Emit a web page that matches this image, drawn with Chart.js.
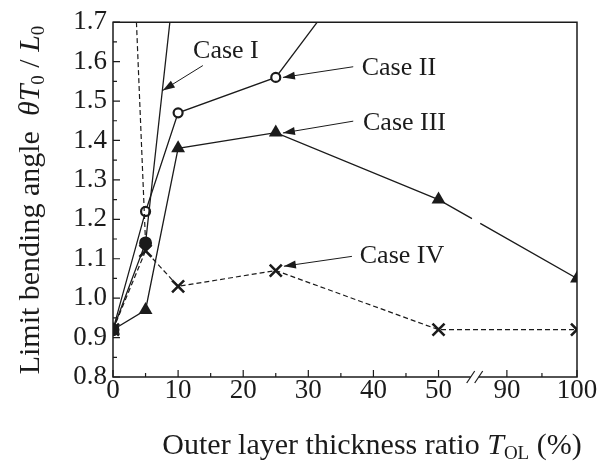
<!DOCTYPE html>
<html>
<head>
<meta charset="utf-8">
<script src="https://cdn.jsdelivr.net/npm/chart.js@4.4.0/dist/chart.umd.min.js"></script>
<style>
  html, body { margin: 0; padding: 0; background: #fff; }
  #wrap { width: 605px; height: 463px; }
</style>
</head>
<body>
<div id="wrap"><canvas id="bendChart" width="605" height="463"></canvas></div>
<script>
// outer layer thickness ratio T_OL (%) of the computed cases
var ratios = [0, 5, 10, 25, 50, 100];

// limit bending angle theta*T0/L0 for each case
var caseI = [0.92, 1.14, 1.89];
var caseII = [0.92, 1.22, 1.47, 1.56, 2.11];
var caseIII = [0.92, 0.97, 1.38, 1.42, 1.25, 1.05];
var caseIV = [0.92, 1.12, 1.03, 1.07, 0.92, 0.92];

// dashed upper branch of case I
var caseIBranchX = [5, 3];
var caseIBranch = [1.14, 1.94];

var xTickValues = [0, 10, 20, 30, 40, 50, 90, 100];
var xTickLabels = ['0', '10', '20', '30', '40', '50', '90', '100'];
var xMinorValues = [5, 15, 25, 35, 45, 95];
var yTickValues = [0.8, 0.9, 1.0, 1.1, 1.2, 1.3, 1.4, 1.5, 1.6, 1.7];

// the x axis skips 50..90
var BREAK_LO = 50, BREAK_HI = 90, BREAK_GAP = 10.5, RIGHT_STRETCH = 70 / 65;
function axisX(v) {
    return v <= BREAK_LO ? v : BREAK_LO + BREAK_GAP + (v - BREAK_HI) * RIGHT_STRETCH;
}
function pts(xs, ys) {
    return ys.map(function(y, i) { return { x: axisX(xs[i]), y: y }; });
}

var ink = '#1b1b1b';
var serif = "'Liberation Serif', 'Times New Roman', serif";

// callouts, positioned in axis units
var notes = [
    { text: 'Case I',   at: [12.3, 1.610], from: [13.8, 1.590], to: [7.64, 1.527] },
    { text: 'Case II',  at: [38.2, 1.565], from: [36.9, 1.587], to: [26.1, 1.560] },
    { text: 'Case III', at: [38.4, 1.427], from: [36.9, 1.449], to: [26.1, 1.419] },
    { text: 'Case IV',  at: [37.9, 1.088], from: [36.7, 1.106], to: [26.25, 1.081] }
];

function drawRuns(c, runs, cx, cy) {
    var total = 0;
    runs.forEach(function(r) { c.font = r.font; r.w = c.measureText(r.t).width; total += r.w; });
    var x = cx - total / 2;
    runs.forEach(function(r) { c.font = r.font; c.fillText(r.t, x, cy + (r.dy || 0)); x += r.w; });
}

var decor = {
    id: 'decor',
    afterDraw: function(chart) {
        var c = chart.ctx, a = chart.chartArea, xs = chart.scales.x, ys = chart.scales.y;
        c.save();
        c.strokeStyle = ink;
        c.fillStyle = ink;

        // frame, bottom edge interrupted at the break
        var bx = xs.getPixelForValue(BREAK_LO + BREAK_GAP / 2) + 2;
        c.lineWidth = 1.5;
        c.beginPath();
        c.moveTo(bx - 4, a.bottom);
        c.lineTo(a.left, a.bottom);
        c.lineTo(a.left, a.top);
        c.lineTo(a.right, a.top);
        c.lineTo(a.right, a.bottom);
        c.lineTo(bx + 4, a.bottom);
        c.stroke();

        c.lineWidth = 1.2;
        [-4, 4].forEach(function(d) {
            c.beginPath();
            c.moveTo(bx + d - 4, a.bottom + 6);
            c.lineTo(bx + d + 4, a.bottom - 6);
            c.stroke();
        });

        // inward tick marks
        c.lineWidth = 1.2;
        c.beginPath();
        xTickValues.forEach(function(v) {
            var px = xs.getPixelForValue(axisX(v));
            c.moveTo(px, a.bottom); c.lineTo(px, a.bottom - 7);
        });
        xMinorValues.forEach(function(v) {
            var px = xs.getPixelForValue(axisX(v));
            c.moveTo(px, a.bottom); c.lineTo(px, a.bottom - 4);
        });
        yTickValues.forEach(function(v, i) {
            var py = ys.getPixelForValue(v);
            c.moveTo(a.left, py); c.lineTo(a.left + 7, py);
            if (i > 0) {
                var pm = ys.getPixelForValue((v + yTickValues[i - 1]) / 2);
                c.moveTo(a.left, pm); c.lineTo(a.left + 4, pm);
            }
        });
        c.stroke();

        // callouts with arrows
        c.font = '26px ' + serif;
        c.textAlign = 'left';
        c.textBaseline = 'alphabetic';
        c.lineWidth = 1;
        notes.forEach(function(n) {
            c.fillText(n.text, xs.getPixelForValue(n.at[0]), ys.getPixelForValue(n.at[1]));
            var x0 = xs.getPixelForValue(n.from[0]), y0 = ys.getPixelForValue(n.from[1]);
            var x1 = xs.getPixelForValue(n.to[0]), y1 = ys.getPixelForValue(n.to[1]);
            var ang = Math.atan2(y1 - y0, x1 - x0);
            c.beginPath(); c.moveTo(x0, y0); c.lineTo(x1, y1); c.stroke();
            c.beginPath();
            c.moveTo(x1, y1);
            c.lineTo(x1 - 12 * Math.cos(ang) + 4 * Math.sin(ang), y1 - 12 * Math.sin(ang) - 4 * Math.cos(ang));
            c.lineTo(x1 - 12 * Math.cos(ang) - 4 * Math.sin(ang), y1 - 12 * Math.sin(ang) + 4 * Math.cos(ang));
            c.closePath();
            c.fill();
        });

        // axis titles
        var big = '30px ' + serif, ital = 'italic 30px ' + serif, sub = '19px ' + serif;
        drawRuns(c, [
            { t: 'Outer layer thickness ratio ', font: big },
            { t: 'T', font: ital },
            { t: 'OL', font: sub, dy: 5 },
            { t: ' (%)', font: big }
        ], 372, 454);

        c.translate(39, 200);
        c.rotate(-Math.PI / 2);
        drawRuns(c, [
            { t: 'Limit bending angle  ', font: big },
            { t: '\u03b8', font: ital },
            { t: 'T', font: ital },
            { t: '0', font: sub, dy: 5 },
            { t: ' / ', font: big },
            { t: 'L', font: ital },
            { t: '0', font: sub, dy: 5 }
        ], 0, 0);
        c.restore();
    }
};

var ctx = document.getElementById('bendChart').getContext('2d');
var bendChart = new Chart(ctx, {
    type: 'scatter',
    data: {
        datasets: [
            {
                label: 'Case I',
                data: pts(ratios, caseI),
                showLine: true,
                borderColor: ink,
                borderWidth: 1.3,
                pointStyle: 'circle',
                pointRadius: 6.5,
                pointBackgroundColor: ink,
                pointBorderWidth: 0
            },
            {
                label: 'Case I branch',
                data: pts(caseIBranchX, caseIBranch),
                showLine: true,
                borderColor: ink,
                borderWidth: 1.2,
                borderDash: [5, 3],
                pointRadius: 0
            },
            {
                label: 'Case II',
                data: pts(ratios, caseII),
                showLine: true,
                borderColor: ink,
                borderWidth: 1.3,
                pointStyle: 'circle',
                pointRadius: 4.5,
                pointBackgroundColor: '#fff',
                pointBorderColor: ink,
                pointBorderWidth: 2.2
            },
            {
                label: 'Case III',
                data: pts(ratios, caseIII),
                showLine: true,
                borderColor: ink,
                borderWidth: 1.3,
                pointStyle: 'triangle',
                pointRadius: 8,
                pointBackgroundColor: ink,
                pointBorderColor: ink,
                pointBorderWidth: 0,
                segment: {
                    // the line is interrupted where it passes the axis break
                    borderDash: function(s) { return s.p0DataIndex === 4 ? [38.5, 9.5, 300] : undefined; }
                }
            },
            {
                label: 'Case IV',
                data: pts(ratios, caseIV),
                showLine: true,
                borderColor: ink,
                borderWidth: 1.2,
                borderDash: [5, 3],
                pointStyle: 'crossRot',
                pointRadius: 8.5,
                pointBorderColor: ink,
                pointBorderWidth: 2.6
            }
        ]
    },
    options: {
        responsive: false,
        animation: false,
        layout: { padding: { top: 18, right: 28, left: 0, bottom: 0 } },
        plugins: { legend: { display: false }, tooltip: { enabled: false } },
        scales: {
            x: {
                type: 'linear',
                min: 0,
                max: axisX(100),
                grid: { display: false, drawTicks: false },
                border: { display: false },
                afterBuildTicks: function(s) {
                    s.ticks = xTickValues.map(function(v) { return { value: axisX(v) }; });
                },
                afterFit: function(s) { s.height = 86; },
                ticks: {
                    autoSkip: false,
                    maxRotation: 0,
                    padding: -2,
                    color: ink,
                    font: { family: serif, size: 27 },
                    callback: function(v, i) { return xTickLabels[i]; }
                }
            },
            y: {
                type: 'linear',
                min: 0.8,
                max: 1.7,
                grid: { display: false, drawTicks: false },
                border: { display: false },
                afterBuildTicks: function(s) {
                    s.ticks = yTickValues.map(function(v) { return { value: v }; });
                },
                afterFit: function(s) { s.width = 113; },
                ticks: {
                    padding: 6,
                    color: ink,
                    font: { family: serif, size: 27 },
                    callback: function(v) { return v.toFixed(1); }
                }
            }
        }
    },
    plugins: [decor]
});
</script>
</body>
</html>
